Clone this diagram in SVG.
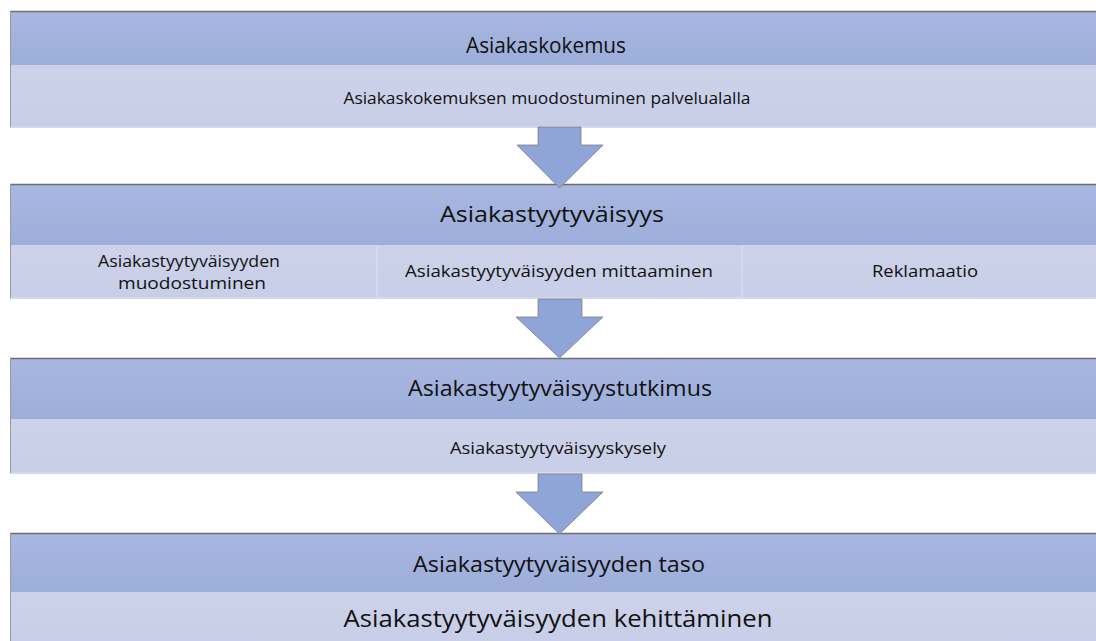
<svg xmlns="http://www.w3.org/2000/svg" width="1096" height="641" viewBox="0 0 1096 641">
<defs>
<linearGradient id="hdr" x1="0" y1="0" x2="0" y2="1">
<stop offset="0" stop-color="#A9B7E1"/>
<stop offset="1" stop-color="#9CAEDA"/>
</linearGradient>
<linearGradient id="sub" x1="0" y1="0" x2="0" y2="1">
<stop offset="0" stop-color="#CDD2EA"/>
<stop offset="1" stop-color="#C8CEE7"/>
</linearGradient>
</defs>
<style>
.hdr{fill:url(#hdr)}
.sub{fill:url(#sub)}
.top{stroke:#6E6E6E;stroke-width:1.5}
.side{stroke:#9A9A9A;stroke-width:1}
.sep{stroke:#D8DCEF;stroke-width:1.5}
.bot{stroke:#D4D8EC;stroke-width:2}
.arrow{fill:#8FA5D8;stroke:#7F7F7F;stroke-width:0.8}
text{font-family:"Open Sans","Liberation Sans",sans-serif;fill:#111;text-anchor:middle}
.t{font-size:21px}
.s{font-size:16px}
.b{font-size:23px}
</style>
<g id="block1">
<rect class="hdr" x="10" y="11" width="1086" height="54"/>
<rect class="sub" x="10" y="65" width="1086" height="62"/>
<line class="bot" x1="10" y1="127" x2="1096" y2="127"/>
<line class="top" x1="10" y1="11.5" x2="1096" y2="11.5"/>
<line class="side" x1="10.5" y1="11" x2="10.5" y2="127"/>
<text class="t" x="546" y="53" textLength="160" lengthAdjust="spacingAndGlyphs">Asiakaskokemus</text>
<text class="s" x="547" y="104" textLength="407" lengthAdjust="spacingAndGlyphs">Asiakaskokemuksen muodostuminen palvelualalla</text>
</g>
<g id="block2">
<rect class="hdr" x="10" y="184" width="1086" height="61"/>
<rect class="sub" x="10" y="245" width="1086" height="53"/>
<line class="sep" x1="377" y1="246" x2="377" y2="298"/>
<line class="sep" x1="742" y1="246" x2="742" y2="298"/>
<line class="bot" x1="10" y1="298" x2="1096" y2="298"/>
<line class="top" x1="10" y1="184.5" x2="1096" y2="184.5"/>
<line class="side" x1="10.5" y1="184" x2="10.5" y2="298"/>
<text class="t" x="552" y="222" textLength="224" lengthAdjust="spacingAndGlyphs">Asiakastyytyväisyys</text>
<text class="s" x="189" y="267" textLength="182" lengthAdjust="spacingAndGlyphs">Asiakastyytyväisyyden</text>
<text class="s" x="192" y="289" textLength="148" lengthAdjust="spacingAndGlyphs">muodostuminen</text>
<text class="s" x="559" y="277" textLength="308" lengthAdjust="spacingAndGlyphs">Asiakastyytyväisyyden mittaaminen</text>
<text class="s" x="925" y="277" textLength="106" lengthAdjust="spacingAndGlyphs">Reklamaatio</text>
</g>
<g id="block3">
<rect class="hdr" x="10" y="358" width="1086" height="61"/>
<rect class="sub" x="10" y="419" width="1086" height="54"/>
<line class="bot" x1="10" y1="473" x2="1096" y2="473"/>
<line class="top" x1="10" y1="358.5" x2="1096" y2="358.5"/>
<line class="side" x1="10.5" y1="358" x2="10.5" y2="473"/>
<text class="t" x="560" y="396" textLength="304" lengthAdjust="spacingAndGlyphs">Asiakastyytyväisyystutkimus</text>
<text class="s" x="558" y="454" textLength="216" lengthAdjust="spacingAndGlyphs">Asiakastyytyväisyyskysely</text>
</g>
<g id="block4">
<rect class="hdr" x="10" y="533" width="1086" height="59"/>
<rect class="sub" x="10" y="592" width="1086" height="49"/>
<line class="top" x1="10" y1="533.5" x2="1096" y2="533.5"/>
<line class="side" x1="10.5" y1="533" x2="10.5" y2="641"/>
<text class="t" x="559" y="572" textLength="292" lengthAdjust="spacingAndGlyphs">Asiakastyytyväisyyden taso</text>
<text class="b" x="558" y="627" textLength="429" lengthAdjust="spacingAndGlyphs">Asiakastyytyväisyyden kehittäminen</text>
</g>
<g id="connectors">
<path class="arrow" d="M538,127 L581,127 L581,145 L603,145 L559.5,188 L517,145 L538,145 Z"/>
<path class="arrow" d="M538,299 L582,299 L582,317 L603,317 L559.5,358 L516,317 L538,317 Z"/>
<path class="arrow" d="M538,474 L582,474 L582,492 L603,492 L559.5,534 L516,492 L538,492 Z"/>
</g>
</svg>
